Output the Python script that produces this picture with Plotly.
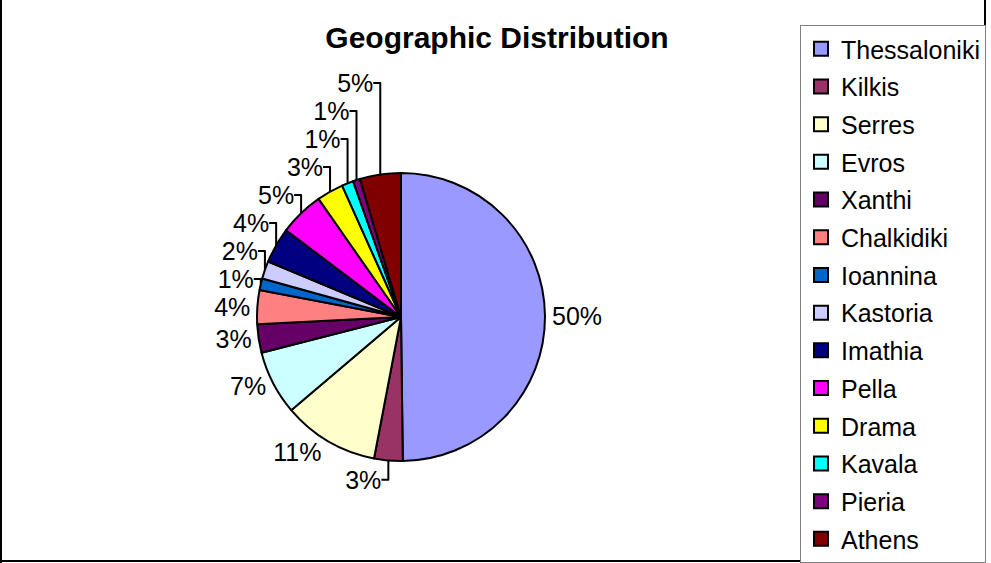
import plotly.graph_objects as go

regions = ["Thessaloniki", "Kilkis", "Serres", "Evros", "Xanthi", "Chalkidiki", "Ioannina",
           "Kastoria", "Imathia", "Pella", "Drama", "Kavala", "Pieria", "Athens"]
shares = [49.8, 3.2, 10.8, 7.2, 3.2, 3.8, 1.3, 2.0, 4.0, 5.0, 3.0, 1.3, 0.8, 4.6]
colors = ["#9999FF", "#993366", "#FFFFCC", "#CCFFFF", "#660066", "#FF8080", "#0066CC",
          "#CCCCFF", "#000080", "#FF00FF", "#FFFF00", "#00FFFF", "#800080", "#800000"]

W, H = 991, 563
FONT = "Arial, Liberation Sans, sans-serif"

fig = go.Figure()
fig.add_trace(go.Pie(
    labels=regions, values=shares, sort=False, direction="clockwise", rotation=0,
    marker=dict(colors=colors, line=dict(color="black", width=2)),
    texttemplate="%{percent:.0%}", textposition="outside",
    textfont=dict(family=FONT, size=25, color="black"),
    showlegend=False, hoverinfo="label+percent",
    domain=dict(x=[(401 - 144) / W, (401 + 144) / W], y=[(246 - 144) / H, (246 + 144) / H]),
))

for i, (name, c) in enumerate(zip(regions, colors)):
    fig.add_trace(go.Scatter(
        x=[None], y=[None], mode="markers", name=name, legendgroup=f"g{i}",
        marker=dict(symbol="square", size=14, color=c, line=dict(color="black", width=2)),
        showlegend=True,
    ))

line = dict(color="black", width=2)
fig.update_layout(
    width=W, height=H, margin=dict(l=0, r=0, t=0, b=0),
    paper_bgcolor="white", plot_bgcolor="white",
    xaxis=dict(visible=False), yaxis=dict(visible=False),
    title=dict(text="<b>Geographic Distribution</b>", x=497 / W, y=1 - 37 / H,
               xanchor="center", yanchor="middle",
               font=dict(family=FONT, size=30, color="black")),
    legend=dict(x=800 / W, y=1 - 32 / H, xanchor="left", yanchor="top",
                font=dict(family=FONT, size=25, color="black"),
                bgcolor="white", bordercolor="#808080", borderwidth=1,
                tracegroupgap=2.2, itemwidth=30),
    shapes=[
        dict(type="line", xref="paper", yref="paper", x0=1 / W, x1=1 / W, y0=0, y1=1, line=line),
        dict(type="line", xref="paper", yref="paper", x0=0, x1=986 / W, y0=2 / H, y1=2 / H, line=line),
        dict(type="line", xref="paper", yref="paper", x0=985 / W, x1=985 / W, y0=0, y1=1, line=line),
    ],
    showlegend=True,
)

fig.write_html("out.html")
